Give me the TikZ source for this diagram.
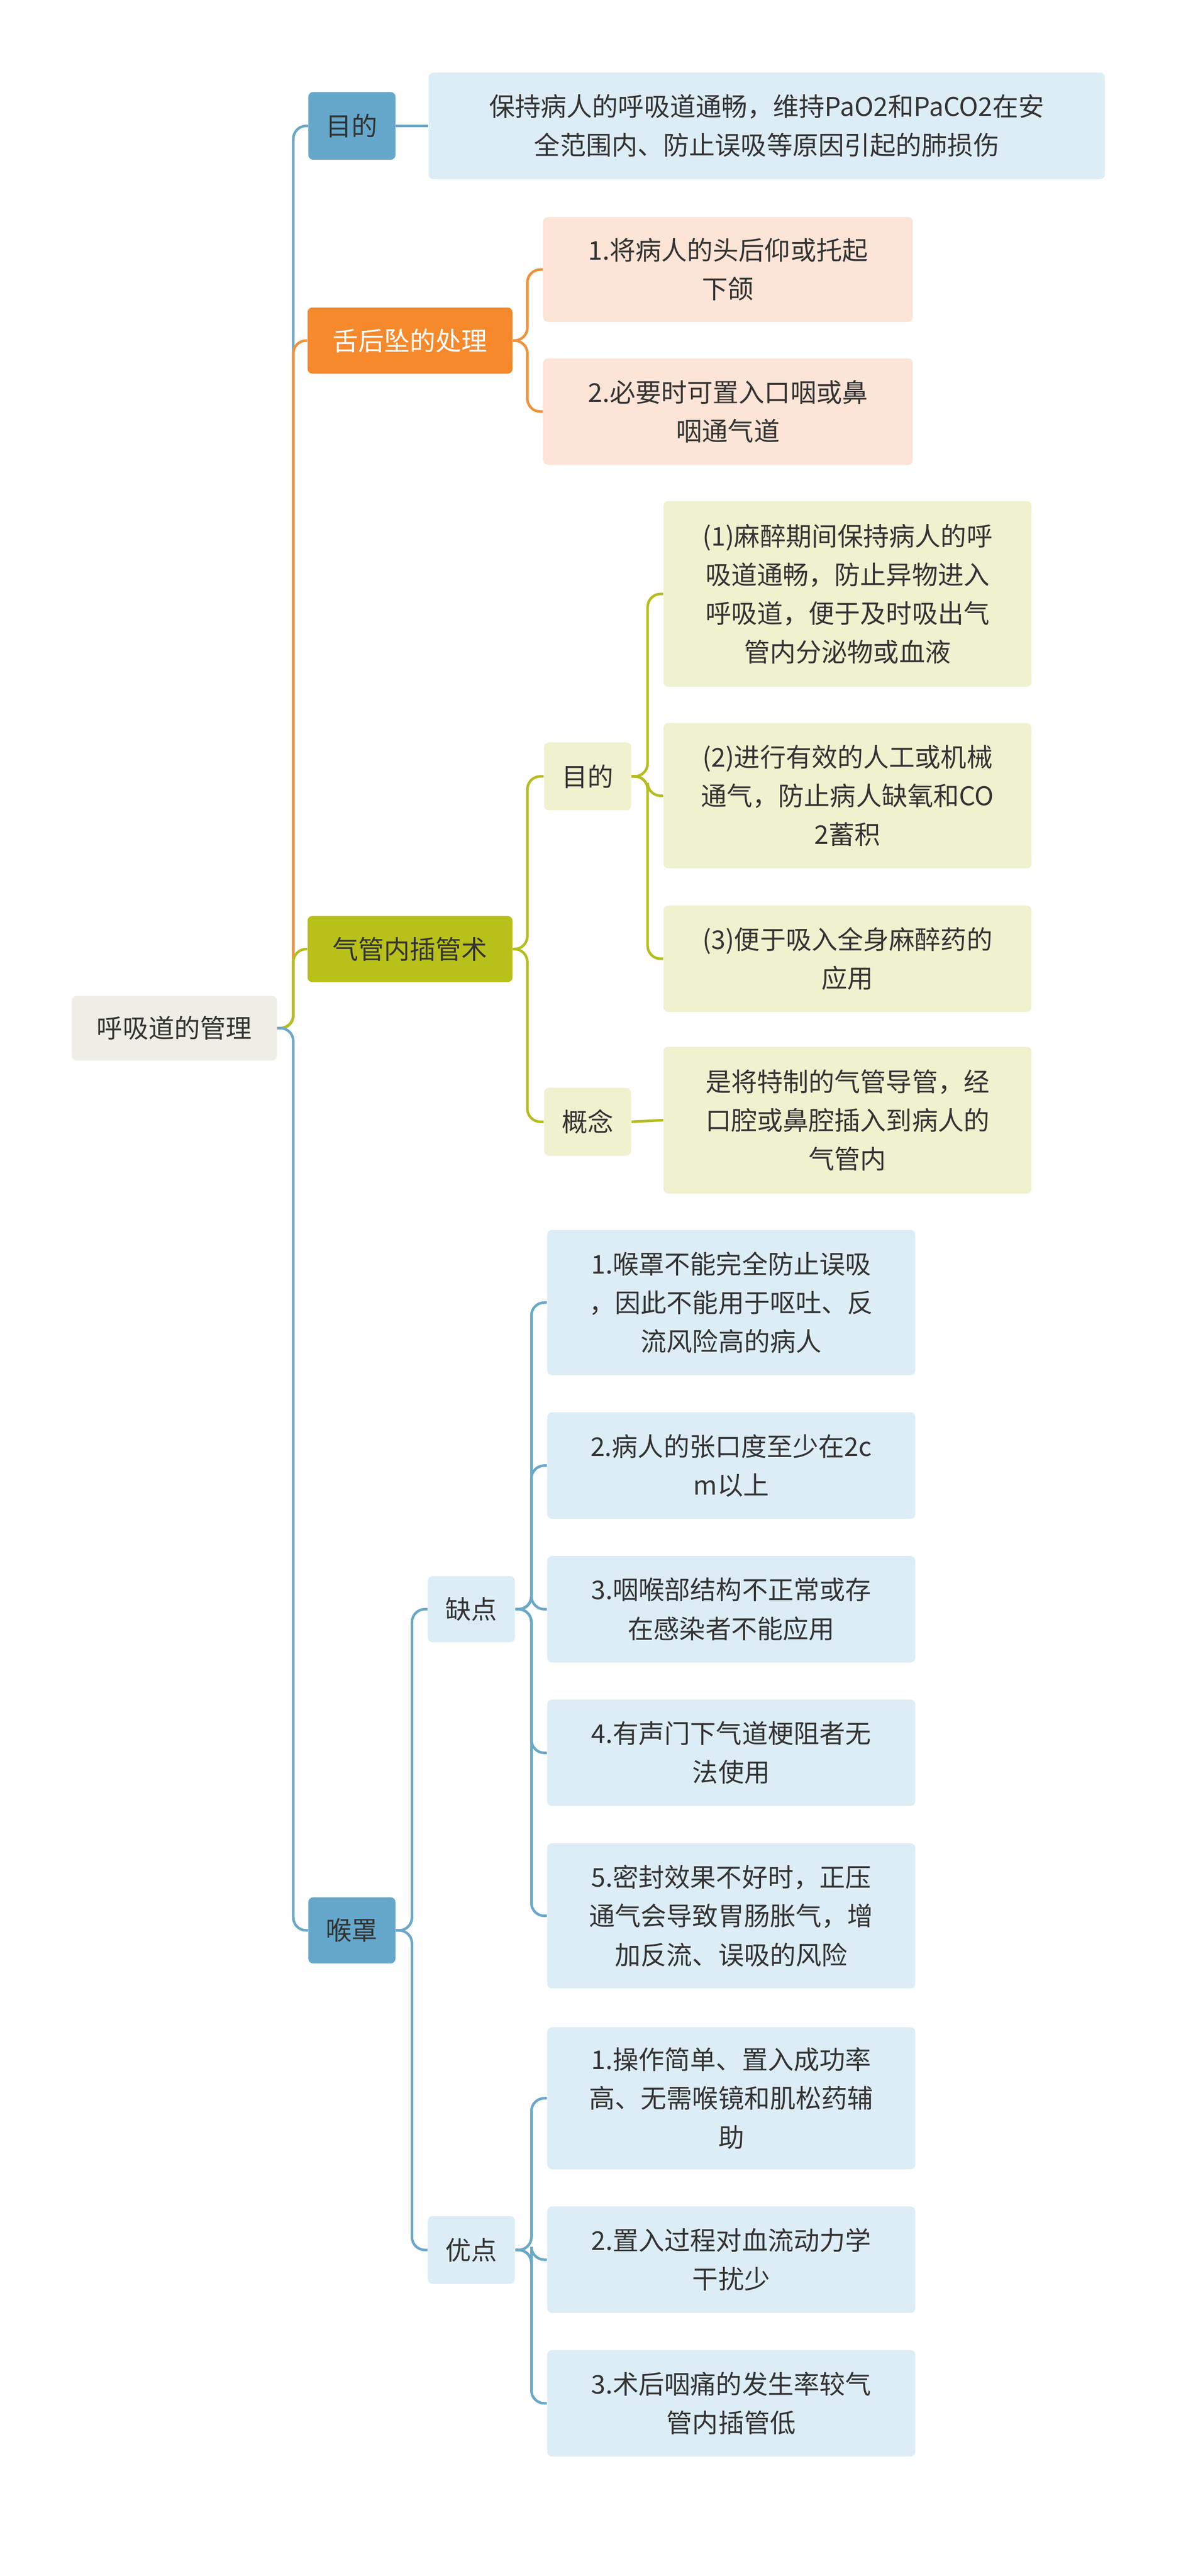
\documentclass[tikz,border=0pt]{standalone}
\usepackage{fontspec}
\setmainfont{Noto Sans CJK SC}
\usetikzlibrary{positioning}
\definecolor{txt}{HTML}{333333}
\definecolor{blueline}{HTML}{6AA8C8}
\definecolor{bluefill}{HTML}{DDEDF5}
\definecolor{bluehead}{HTML}{65A8CB}
\definecolor{orgline}{HTML}{F0913A}
\definecolor{orgfill}{HTML}{FCE4D6}
\definecolor{orghead}{HTML}{F5892C}
\definecolor{oliveline}{HTML}{B5BD1E}
\definecolor{olivefill}{HTML}{EFF1CF}
\definecolor{olivehead}{HTML}{B8C01A}
\definecolor{rootfill}{HTML}{EEEEE6}
\tikzset{every node/.style={align=center, font=\fontsize{16}{24}\selectfont, text=txt},
  box/.style={rectangle, rounded corners=3pt, inner sep=0pt},
  link/.style={line width=1.6pt, rounded corners=8pt}}
\begin{document}
\begin{tikzpicture}[x=1pt,y=-1pt]
    \useasboundingbox[fill=white] (0,0) rectangle (742,1596);
    \node (root) at (108,637) [box, fill=rootfill, minimum width=127, minimum height=40] {呼吸道的管理};

    \node (aim)    at (218,78)  [box, fill=bluehead, minimum width=54, minimum height=42] {目的};
    \node (tongue) at (254,211) [box, fill=orghead, text=white, minimum width=127, minimum height=41] {舌后坠的处理};
    \node (tube)   at (254,588) [box, fill=olivehead, minimum width=127, minimum height=41] {气管内插管术};
    \node (mask)   at (218,1196) [box, fill=bluehead, minimum width=54, minimum height=41] {喉罩};

    \node (aimA) at (475,78) [box, fill=bluefill, minimum width=419, minimum height=66]
          {保持病人的呼吸道通畅，维持PaO2和PaCO2在安\\全范围内、防止误吸等原因引起的肺损伤};

    \node (tongA) at (451,167) [box, fill=orgfill, minimum width=229, minimum height=65] {1.将病人的头后仰或托起\\下颌};
    \node (tongB) at (451,255) [box, fill=orgfill, minimum width=229, minimum height=66] {2.必要时可置入口咽或鼻\\咽通气道};

    \node (tubeAim) at (364,481) [box, fill=olivefill, minimum width=54, minimum height=42] {目的};
    \node (tubeDef) at (364,695) [box, fill=olivefill, minimum width=54, minimum height=42] {概念};
    \node (tubeA) at (525,368) [box, fill=olivefill, minimum width=228, minimum height=115]
          {(1)麻醉期间保持病人的呼\\吸道通畅，防止异物进入\\呼吸道，便于及时吸出气\\管内分泌物或血液};
    \node (tubeB) at (525,493) [box, fill=olivefill, minimum width=228, minimum height=90]
          {(2)进行有效的人工或机械\\通气，防止病人缺氧和CO\\2蓄积};
    \node (tubeC) at (525,594) [box, fill=olivefill, minimum width=228, minimum height=66]
          {(3)便于吸入全身麻醉药的\\应用};
    \node (tubeD) at (525,694) [box, fill=olivefill, minimum width=228, minimum height=91]
          {是将特制的气管导管，经\\口腔或鼻腔插入到病人的\\气管内};

    \node (cons) at (292,997)  [box, fill=bluefill, minimum width=54, minimum height=41] {缺点};
    \node (pros) at (292,1394) [box, fill=bluefill, minimum width=54, minimum height=42] {优点};
    \node (consA) at (453,807)  [box, fill=bluefill, minimum width=228, minimum height=90] {1.喉罩不能完全防止误吸\\，因此不能用于呕吐、反\\流风险高的病人};
    \node (consB) at (453,908)  [box, fill=bluefill, minimum width=228, minimum height=66] {2.病人的张口度至少在2c\\m以上};
    \node (consC) at (453,997)  [box, fill=bluefill, minimum width=228, minimum height=66] {3.咽喉部结构不正常或存\\在感染者不能应用};
    \node (consD) at (453,1086) [box, fill=bluefill, minimum width=228, minimum height=66] {4.有声门下气道梗阻者无\\法使用};
    \node (consE) at (453,1187) [box, fill=bluefill, minimum width=228, minimum height=90] {5.密封效果不好时，正压\\通气会导致胃肠胀气，增\\加反流、误吸的风险};
    \node (prosA) at (453,1300) [box, fill=bluefill, minimum width=228, minimum height=88] {1.操作简单、置入成功率\\高、无需喉镜和肌松药辅\\助};
    \node (prosB) at (453,1400) [box, fill=bluefill, minimum width=228, minimum height=66] {2.置入过程对血流动力学\\干扰少};
    \node (prosC) at (453,1489) [box, fill=bluefill, minimum width=228, minimum height=66] {3.术后咽痛的发生率较气\\管内插管低};

    \draw [link, blueline]   (root.east) -- ++(10,0) |- (aim.west);
    \draw [link, orgline]    (root.east) -- ++(10,0) |- (tongue.west);
    \draw [link, oliveline]  (root.east) -- ++(10,0) |- (tube.west);
    \draw [link, blueline]   (root.east) -- ++(10,0) |- (mask.west);
    \draw [link, blueline]   (aim.east) -- (aimA.west);
    \foreach \c in {tongA, tongB}
        \draw [link, orgline] (tongue.east) -- ++(9,0) |- (\c.west);
    \foreach \c in {tubeAim, tubeDef}
        \draw [link, oliveline] (tube.east) -- ++(9,0) |- (\c.west);
    \foreach \c in {tubeA, tubeB, tubeC}
        \draw [link, oliveline] (tubeAim.east) -- ++(10,0) |- (\c.west);
    \draw [link, oliveline] (tubeDef.east) -- (tubeD.west);
    \foreach \c in {cons, pros}
        \draw [link, blueline] (mask.east) -- ++(10,0) |- (\c.west);
    \foreach \c in {consA, consB, consC, consD, consE}
        \draw [link, blueline] (cons.east) -- ++(10,0) |- (\c.west);
    \foreach \c in {prosA, prosB, prosC}
        \draw [link, blueline] (pros.east) -- ++(10,0) |- (\c.west);
\end{tikzpicture}
\end{document}
